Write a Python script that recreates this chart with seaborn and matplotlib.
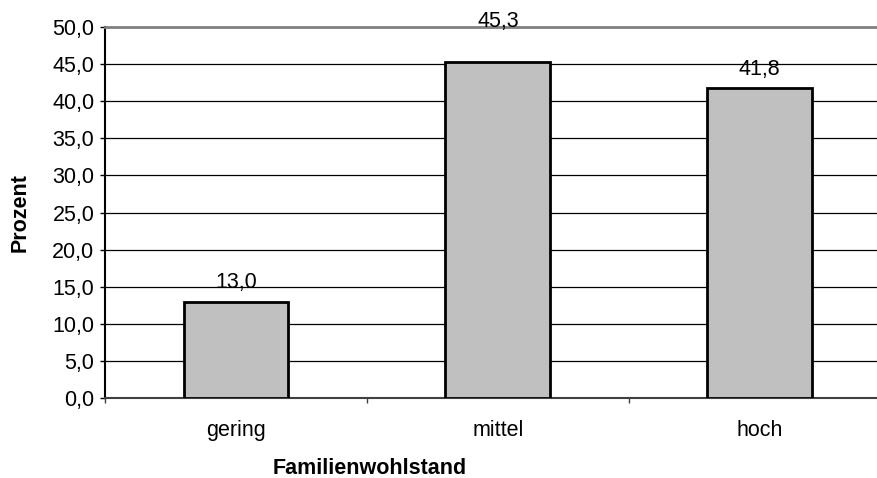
import seaborn as sns
import matplotlib.pyplot as plt
from matplotlib.ticker import FixedLocator, MultipleLocator, FuncFormatter

# Daten
kategorien = ["gering", "mittel", "hoch"]
prozent = [13.0, 45.3, 41.8]

sns.set_theme(style="white")
plt.rcParams['font.family'] = ['Liberation Sans', 'DejaVu Sans']

fs = 15.5

fig = plt.figure(figsize=(8.77, 4.78), dpi=100)
# Diagrammflaeche laeuft rechts ueber den Bildrand hinaus (wie im Original)
ax = fig.add_axes([0.1197, 0.1674, 0.896, 0.776])

sns.barplot(x=kategorien, y=prozent, color="#C0C0C0", saturation=1,
            width=0.4, edgecolor="black", linewidth=2, ax=ax, zorder=3)

ax.set_xlim(-0.5, len(kategorien) - 0.5)
ax.set_ylim(0, 50)

# Gitternetzlinien
ax.yaxis.set_major_locator(MultipleLocator(5))
ax.yaxis.set_major_formatter(FuncFormatter(lambda v, p: f"{v:.1f}".replace(".", ",")))
ax.grid(axis="y", color="black", linewidth=0.9, zorder=0)
ax.set_axisbelow(True)

# Rahmen
ax.spines["right"].set_visible(False)
ax.spines["top"].set_color("#808080")
ax.spines["top"].set_linewidth(2)
ax.spines["left"].set_color("black")
ax.spines["left"].set_linewidth(1.5)
ax.spines["bottom"].set_color("#404040")
ax.spines["bottom"].set_linewidth(1.5)

# Ticks: Kategorien ohne Striche, Trennstriche zwischen den Kategorien
ax.tick_params(axis="x", which="major", length=0, labelsize=fs, pad=15.5, colors="black")
ax.xaxis.set_minor_locator(FixedLocator([i - 0.5 for i in range(len(kategorien))]))
ax.tick_params(axis="x", which="minor", length=3.6, width=1, color="#404040", direction="out", bottom=True)
ax.tick_params(axis="y", length=3.6, width=1, color="black", direction="out", left=True,
               labelsize=fs, pad=4, colors="black")

# Wertebeschriftung
for i, v in enumerate(prozent):
    y = v + 2.5
    if y > 45:
        # Excel schiebt die Beschriftung an den oberen Rand
        y = 50.7
    ax.text(i, y, f"{v:.1f}".replace(".", ","), ha="center", va="center",
            fontsize=fs, color="black", zorder=4)

ax.set_ylabel("Prozent", fontsize=fs, fontweight="bold", color="black")
ax.yaxis.set_label_coords(-0.095, 0.5)
ax.set_xlabel("Familienwohlstand", fontsize=fs, fontweight="bold", color="black")
ax.xaxis.set_label_coords(0.337, -0.163)

fig.savefig("out.png", dpi=100)
plt.close()
